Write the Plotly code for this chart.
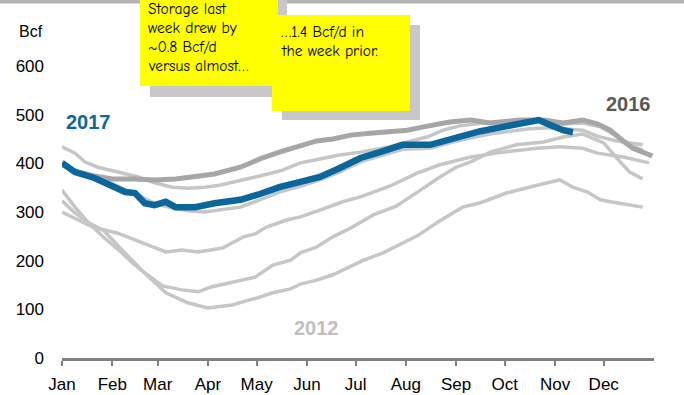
import pandas as pd
import plotly.graph_objects as go

# Working gas in storage, Bcf, plotted on a common Jan-Dec calendar
MONTHS = ["Jan", "Feb", "Mar", "Apr", "May", "Jun",
          "Jul", "Aug", "Sep", "Oct", "Nov", "Dec"]

dates_2017 = ["01-01", "01-09", "01-21", "02-01", "02-09", "02-15", "02-21", "02-27",
              "03-06", "03-12", "03-24", "04-05", "04-21", "05-03", "05-15", "05-28",
              "06-09", "06-21", "07-04", "07-16", "07-30", "08-16", "08-26", "09-05",
              "09-16", "09-30", "10-10", "10-22", "10-29", "11-06", "11-12"]
bcf_2017 = [401, 382, 370, 355, 341, 339, 318, 314,
            321, 310, 310, 318, 325, 337, 351, 362,
            372, 390, 411, 423, 438, 438, 448, 458,
            466, 475, 481, 489, 479, 468, 464]

dates_2016 = ["01-01", "01-09", "01-21", "02-01", "02-15", "02-27", "03-12", "03-24",
              "04-05", "04-21", "05-03", "05-15", "05-28", "06-07", "06-17", "06-28",
              "07-10", "07-22", "08-02", "08-12", "08-28", "09-10", "09-22", "10-10",
              "10-25", "11-06", "11-18", "11-27", "12-05", "12-13", "12-19", "12-31"]
bcf_2016 = [399, 384, 374, 368, 368, 366, 368, 372,
            378, 392, 409, 423, 436, 446, 450, 458,
            462, 464, 468, 475, 485, 489, 483, 489,
            489, 483, 489, 481, 468, 446, 431, 415]

dates_2012 = ["01-01", "01-09", "01-15", "01-23", "02-07", "02-17", "02-27", "03-10",
              "03-20", "03-30", "04-08", "04-21", "05-03", "05-17", "05-28", "06-09",
              "06-21", "07-04", "07-22", "08-02", "08-14", "08-24", "09-03", "09-18",
              "10-04", "10-21", "11-06", "11-18", "11-29", "12-08", "12-17", "12-25"]
bcf_2012 = [434, 421, 403, 392, 380, 372, 360, 351,
            349, 351, 355, 364, 374, 386, 401, 409,
            417, 423, 434, 444, 454, 468, 477, 483,
            487, 487, 481, 483, 475, 458, 438, 427]

dates_2015 = ["01-01", "01-09", "01-21", "02-01", "02-09", "02-18", "02-27", "03-10",
              "03-21", "03-30", "04-08", "04-21", "05-03", "05-15", "05-28", "06-09",
              "06-21", "07-04", "07-16", "07-30", "08-16", "08-28", "09-10", "09-22",
              "10-04", "10-16", "10-29", "11-10", "11-18", "11-27", "12-09", "12-25"]
bcf_2015 = [395, 386, 372, 358, 345, 333, 318, 308,
            302, 300, 304, 310, 325, 341, 353, 366,
            382, 403, 415, 429, 431, 442, 452, 460,
            466, 471, 473, 471, 468, 456, 446, 438]

dates_2013 = ["01-01", "01-09", "01-17", "01-27", "02-07", "02-13", "02-21", "03-04",
              "03-16", "03-26", "04-03", "04-16", "04-30", "05-11", "05-22", "05-28",
              "06-07", "06-17", "06-28", "07-12", "07-26", "08-10", "08-22", "09-01",
              "09-10", "09-22", "10-08", "10-25", "11-06", "11-18", "12-01", "12-09",
              "12-17", "12-25"]
bcf_2013 = [345, 310, 279, 247, 216, 197, 175, 148,
            140, 136, 146, 156, 166, 191, 201, 216,
            228, 249, 267, 294, 312, 345, 372, 392,
            403, 423, 438, 444, 454, 460, 442, 411,
            382, 368]

dates_2014 = ["01-01", "01-09", "01-17", "01-27", "02-07", "02-19", "03-06", "03-20",
              "04-01", "04-16", "04-26", "05-01", "05-11", "05-22", "05-28", "06-07",
              "06-17", "06-26", "07-06", "07-18", "07-28", "08-08", "08-22", "09-05",
              "09-16", "10-02", "10-21", "11-04", "11-12", "11-21", "11-29", "12-05",
              "12-25"]
bcf_2014 = [323, 298, 279, 261, 222, 181, 134, 113,
            103, 109, 119, 123, 134, 142, 152, 160,
            171, 185, 201, 216, 232, 251, 282, 310,
            319, 339, 355, 366, 351, 341, 325, 321,
            310]

dates_2011 = ["01-01", "01-08", "01-20", "02-04", "02-18", "03-06", "03-16", "03-26",
              "04-10", "04-16", "04-23", "04-30", "05-07", "05-20", "05-28", "06-09",
              "06-23", "07-04", "07-22", "08-08", "08-22", "09-10", "09-30", "10-21",
              "11-04", "11-18", "11-27", "12-13", "12-29"]
bcf_2011 = [300, 288, 269, 257, 238, 218, 222, 218,
            226, 236, 249, 255, 269, 284, 290, 304,
            321, 331, 353, 380, 397, 413, 423, 431,
            434, 431, 421, 413, 401]

Y_TICKS = [0, 100, 200, 300, 400, 500, 600]

NOTE_1 = ["Storage last", "week drew by", "~0.8 Bcf/d", "versus almost…"]
NOTE_2 = ["…1.4 Bcf/d in", "the week prior."]

BLUE = "#0A679B"
GRAY_2016 = "#A6A6A6"
GRAY_OLD = "#C6C6C6"
FONT = "Liberation Sans, Arial, sans-serif"
NOTE_FONT = "Comic Sans MS, Comic Neue, Noto Sans, sans-serif"


def on_calendar(md):
    return pd.to_datetime(["2017-" + d for d in md])


fig = go.Figure()

older = [(dates_2011, bcf_2011, "2011"), (dates_2012, bcf_2012, "2012"),
         (dates_2013, bcf_2013, "2013"), (dates_2014, bcf_2014, "2014"),
         (dates_2015, bcf_2015, "2015")]
for md, vals, name in older:
    fig.add_trace(go.Scatter(x=on_calendar(md), y=vals, name=name, mode="lines",
                             line=dict(color=GRAY_OLD, width=3.5)))

fig.add_trace(go.Scatter(x=on_calendar(dates_2016), y=bcf_2016, name="2016", mode="lines",
                         line=dict(color=GRAY_2016, width=5)))
fig.add_trace(go.Scatter(x=on_calendar(dates_2017), y=bcf_2017, name="2017", mode="lines",
                         line=dict(color=BLUE, width=6.5)))

# plot area spans pixels x 62..654, y 66..358
L, R, T, B = 62, 654, 66, 358


def px(x):
    return (x - L) / (R - L)


def py(y):
    return (B - y) / (B - T)


def card(x0, x1, y0, y1, color):
    return dict(type="rect", xref="paper", yref="paper",
                x0=px(x0), x1=px(x1), y0=py(y1), y1=py(y0),
                fillcolor=color, line=dict(width=0), layer="above")


shapes = [
    card(0, 684, 0, 3.5, "#B4B4B4"),      # rule along the top edge
    card(150, 287, -5, 97, "#C8C8C8"),    # first note shadow
    card(140, 278, -5, 86, "#FFFF00"),    # first note
    card(282, 420, 25, 120, "#C8C8C8"),   # second note shadow
    card(272, 410, 15, 111, "#FFFF00"),   # second note
]


def label(text, x, y, size, color, anchor="center", family=FONT):
    return dict(text=text, x=px(x), y=py(y), xref="paper", yref="paper",
                xanchor=anchor, yanchor="middle", showarrow=False,
                font=dict(family=family, size=size, color=color))


annotations = [
    label("Bcf", 31, 32, 16, "#000000"),
    label("<b>2017</b>", 88, 122, 20, BLUE),
    label("<b>2016</b>", 628, 104, 20, "#595959"),
    label("<b>2012</b>", 316, 328, 20, "#BFBFBF"),
]
for i, line in enumerate(NOTE_1):
    annotations.append(label(line, 146, 9 + 19 * i, 15.5, "#000000", "left", NOTE_FONT))
for i, line in enumerate(NOTE_2):
    annotations.append(label(line, 279, 32 + 19 * i, 15.5, "#000000", "left", NOTE_FONT))

month_starts = pd.date_range("2017-01-01", periods=12, freq="MS")

fig.update_layout(
    width=684, height=395,
    margin=dict(l=L, r=684 - R, t=T, b=395 - B),
    paper_bgcolor="white", plot_bgcolor="white",
    showlegend=False,
    shapes=shapes,
    annotations=annotations,
    xaxis=dict(
        type="date", range=["2017-01-01", "2018-01-01"],
        tickvals=month_starts, ticktext=MONTHS,
        ticks="outside", ticklen=5, tickwidth=2, tickcolor="#808080",
        showline=True, linecolor="#808080", linewidth=3,
        showgrid=False, zeroline=False, ticklabelstandoff=4,
        automargin=False,
        tickfont=dict(family=FONT, size=17, color="#000000"),
    ),
    yaxis=dict(
        range=[0, 600], tickvals=Y_TICKS,
        showline=False, showgrid=False, zeroline=False, ticks="",
        ticklabelstandoff=17, automargin=False,
        tickfont=dict(family=FONT, size=17, color="#000000"),
    ),
)

fig.write_html("out.html")
